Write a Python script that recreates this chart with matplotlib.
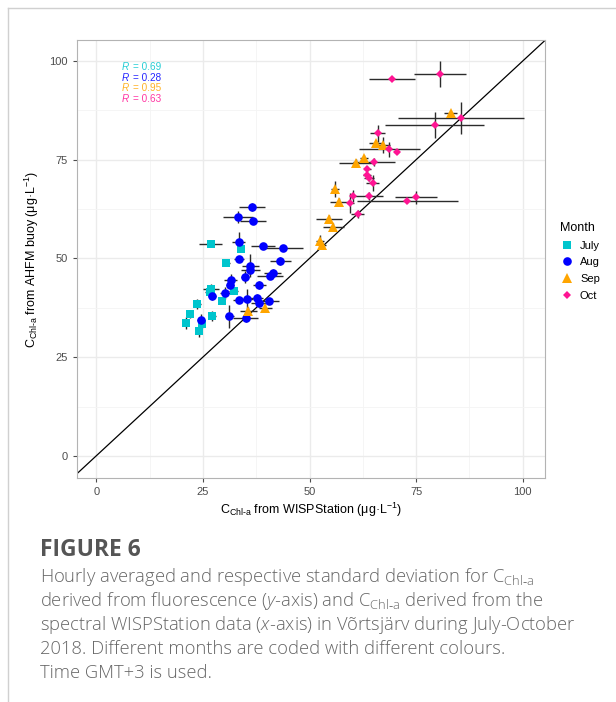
import matplotlib
matplotlib.use("Agg")
import matplotlib.pyplot as plt
from matplotlib.lines import Line2D

plt.rcParams['font.family'] = ['Liberation Sans', 'DejaVu Sans']
plt.rcParams['mathtext.fontset'] = 'custom'
plt.rcParams['mathtext.rm'] = 'Liberation Sans'
plt.rcParams['mathtext.it'] = 'Open Sans:italic:light'

# data: WISPStation (x) vs AHFM buoy (y), hourly means and SD
july_x = [26.8, 33.9, 30.4, 26.9, 26.6, 32.2, 29.4, 23.7, 27.2, 22.0, 21.1, 24.2, 24.7]
july_y = [53.7, 52.5, 48.9, 42.2, 41.6, 41.7, 39.2, 38.4, 35.4, 35.9, 33.6, 31.6, 33.5]
july_xerr = [2.7, 0.8, 1.0, 1.8, 1.0, 1.0, 0.8, 0.8, 0.8, 0.5, 0.5, 0.5, 0.6]
july_yerr = [0.8, 0.8, 0.5, 1.2, 0.8, 0.8, 0.8, 1.3, 1.3, 1.0, 1.5, 1.5, 1.0]

aug_x = [36.5, 33.2, 36.8, 33.4, 39.1, 43.7, 33.4, 43.2, 36.1, 36.1, 41.4, 40.7, 34.9,
         38.2, 31.5, 31.4, 30.3, 33.4, 35.3, 37.6, 38.2, 40.4, 31.2, 35.0, 27.1, 24.5]
aug_y = [63.0, 60.5, 59.5, 54.1, 53.2, 52.6, 49.8, 49.4, 48.2, 47.1, 46.4, 45.6, 45.3,
         43.2, 44.5, 43.3, 41.2, 39.4, 39.7, 39.9, 38.7, 39.3, 35.3, 34.9, 40.5, 34.3]
aug_xerr = [3.0, 3.5, 3.0, 1.5, 2.8, 4.7, 1.2, 2.5, 2.0, 2.2, 2.0, 3.0, 1.0,
            1.5, 1.5, 1.0, 1.2, 1.3, 1.5, 1.5, 2.0, 2.5, 1.0, 3.0, 1.0, 0.8]
aug_yerr = [1.0, 1.5, 0.5, 2.5, 0.8, 0.8, 0.5, 1.0, 3.0, 1.0, 0.8, 0.8, 1.5,
            1.0, 1.5, 0.8, 1.5, 0.8, 2.5, 1.0, 1.0, 0.8, 3.0, 1.0, 1.0, 1.5]

sep_x = [65.5, 67.3, 60.8, 62.8, 56.0, 56.9, 54.5, 55.6, 52.5, 52.9, 83.1, 35.6, 39.6]
sep_y = [79.1, 78.7, 74.2, 75.3, 67.6, 64.3, 60.1, 58.0, 54.4, 53.3, 86.8, 36.7, 37.5]
sep_xerr = [1.5, 1.5, 4.0, 1.0, 1.0, 2.0, 3.0, 2.5, 1.0, 1.0, 1.5, 2.0, 1.5]
sep_yerr = [1.0, 2.0, 1.0, 1.0, 2.0, 1.0, 0.8, 1.0, 1.5, 1.0, 0.5, 1.0, 1.0]

oct_x = [69.4, 80.6, 85.5, 79.4, 66.0, 68.7, 70.4, 65.1, 63.5, 63.5, 64.0, 64.8,
         60.1, 63.9, 59.6, 61.3, 72.9, 74.9]
oct_y = [95.4, 96.7, 85.6, 83.8, 81.7, 77.7, 76.9, 74.5, 72.6, 71.0, 70.3, 69.0,
         65.9, 65.9, 64.0, 61.3, 64.6, 65.5]
oct_xerr = [5.4, 6.1, 14.7, 11.6, 1.8, 7.1, 0.5, 5.0, 0.8, 1.0, 1.2, 1.5,
            0.5, 3.4, 0.8, 1.5, 11.8, 4.9]
oct_yerr = [0.3, 3.2, 4.1, 3.3, 2.2, 1.9, 0.5, 1.0, 0.8, 1.0, 0.8, 2.0,
            1.5, 1.0, 2.5, 1.0, 0.5, 1.6]

months = ['July', 'Aug', 'Sep', 'Oct']
r_values = ['0.69', '0.28', '0.95', '0.63']
colors = ['#00C5CD', '#0000FF', '#FFA500', '#FF1493']
markers = ['s', 'o', '^', 'D']
msizes = [5.4, 6.2, 6.6, 3.9]

series = [
    (july_x, july_y, july_xerr, july_yerr),
    (aug_x, aug_y, aug_xerr, aug_yerr),
    (sep_x, sep_y, sep_xerr, sep_yerr),
    (oct_x, oct_y, oct_xerr, oct_yerr),
]

fig = plt.figure(figsize=(6.16, 7.02), dpi=100)
ax = fig.add_axes([77 / 616, 1 - 478 / 702, 468 / 616, 438 / 702])

ax.set_xlim(-4.5, 105.2)
ax.set_ylim(-5.6, 105.3)
ax.set_xticks([0, 25, 50, 75, 100])
ax.set_yticks([0, 25, 50, 75, 100])
ax.set_xticks([12.5, 37.5, 62.5, 87.5], minor=True)
ax.set_yticks([12.5, 37.5, 62.5, 87.5], minor=True)
ax.grid(which='major', color='#EBEBEB', linewidth=1.0)
ax.grid(which='minor', color='#F4F4F4', linewidth=0.6)
ax.set_axisbelow(True)
for sp in ax.spines.values():
    sp.set_color('#B3B3B3')
    sp.set_linewidth(0.8)
ax.tick_params(which='major', colors='#4D4D4D', labelsize=8, length=3, width=0.8)
ax.tick_params(which='minor', length=0)

# 1:1 line
ax.axline((0, 0), slope=1, color='black', linewidth=0.9, zorder=2)

for (x, y, xe, ye), c, m, ms in zip(series, colors, markers, msizes):
    ax.errorbar(x, y, xerr=xe, yerr=ye, fmt='none', ecolor='#2B2B2B',
                elinewidth=1.0, capsize=0, zorder=3)
    ax.plot(x, y, linestyle='none', marker=m, color=c, markersize=ms,
            markeredgewidth=0, zorder=4)

for i, (rv, c) in enumerate(zip(r_values, colors)):
    ax.text(5.9, 98.4 - i * 2.65, 'R', color=c, alpha=0.85, fontstyle='italic',
            fontsize=7.2, va='center', ha='left')
    ax.text(8.7, 98.4 - i * 2.65, '= ' + rv, color=c, alpha=0.85,
            fontsize=7.2, va='center', ha='left')

ax.set_xlabel('C$_{\\mathrm{Chl\u2010a}}$ from WISPStation (μg·L$^{-1}$)',
              fontsize=9, color='black', labelpad=3)
ax.set_ylabel('C$_{\\mathrm{Chl\u2010a}}$ from AHFM buoy (μg·L$^{-1}$)',
              fontsize=9, color='black', labelpad=6)

handles = [Line2D([], [], linestyle='none', marker=m, color=c, markersize=ms,
                  markeredgewidth=0) for m, c, ms in zip(markers, colors, msizes)]
fig.legend(handles, months, title='Month', loc='upper left',
           bbox_to_anchor=(550 / 616, 1 - 212 / 702), frameon=False,
           fontsize=8, title_fontsize=9, handletextpad=0.6, labelspacing=0.6,
           alignment='left', handlelength=1.2)

# page frame lines
fig.add_artist(Line2D([8 / 616, 8 / 616], [0, 1 - 8 / 702], color='#D0D0D0', linewidth=1))
fig.add_artist(Line2D([8 / 616, 1], [1 - 8 / 702, 1 - 8 / 702], color='#D0D0D0', linewidth=1))

# caption
cap_font = ['Open Sans', 'DejaVu Sans']
fig.text(40 / 616, 1 - 550 / 702, 'FIGURE 6', fontsize=16.5, fontweight='bold',
         color='#555555', family=cap_font, va='center')
caption = [
    'Hourly averaged and respective standard deviation for C$_{\\mathregular{Chl\u2010a}}$',
    'derived from fluorescence ($\\it{y}$-axis) and C$_{\\mathregular{Chl\u2010a}}$ derived from the',
    'spectral WISPStation data ($\\it{x}$-axis) in Võrtsjärv during July-October',
    '2018. Different months are coded with different colours.',
    'Time GMT+3 is used.',
]
for i, line in enumerate(caption):
    fig.text(40 / 616, 1 - (577 + i * 24) / 702, line, fontsize=13.2,
             color='#666666', family=cap_font, fontweight='light', va='center')

fig.savefig('out.png', dpi=100)
